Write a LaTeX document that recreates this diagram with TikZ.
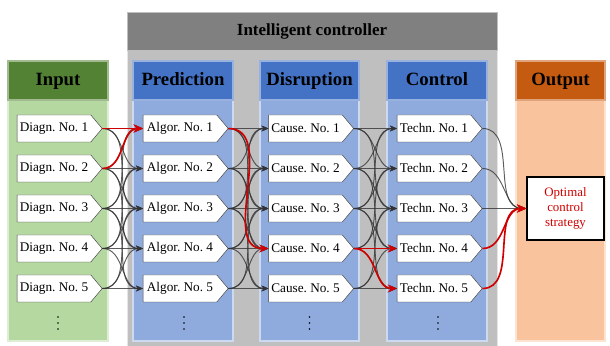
\documentclass[tikz,border=0pt]{standalone}
\usepackage{fontspec}
\setmainfont{Liberation Serif}
\usetikzlibrary{shapes.symbols,arrows.meta}
\frenchspacing
\definecolor{ingreen}{HTML}{548235}
\definecolor{inbody}{HTML}{B5D8A0}
\definecolor{hblue}{HTML}{4472C4}
\definecolor{bblue}{HTML}{8FAADC}
\definecolor{hout}{HTML}{C55A11}
\definecolor{bout}{HTML}{F9C39D}
\definecolor{ctrlhead}{HTML}{808080}
\definecolor{ctrlbody}{HTML}{BFBFBF}
\definecolor{hotred}{HTML}{D00000}
\tikzset{
  item/.style={signal, signal to=east, signal pointer angle=100, draw=black!75,
    fill=white, minimum width=2.55cm, minimum height=0.81cm, inner xsep=1.5pt,
    font=\fontsize{11.3}{13}\selectfont},
  headtext/.style={font=\fontsize{16}{18}\selectfont\bfseries, anchor=base},
  link/.style={draw=black!80, opacity=0.8, line width=0.8pt, -{Stealth[length=6pt,width=5pt]}},
  hot/.style={draw=hotred, line width=1.4pt, -{Stealth[length=8pt,width=7pt]}},
}
\begin{document}
\begin{tikzpicture}[x=0.03cm,y=-0.03cm]
\useasboundingbox (0,0) rectangle (610,346);
% intelligent controller frame
\fill[ctrlbody, draw=white!60!ctrlbody] (127,50) rectangle (497,346);
\fill[ctrlhead, draw=white!50!ctrlhead] (127,12) rectangle (497,50);
\node[headtext, font=\fontsize{14.5}{16}\selectfont\bfseries] (ctrl) at (312,36) {Intelligent controller};
% columns
\foreach \xl/\xr/\hc/\bc/\t in {8/108/ingreen/inbody/Input, 133/233/hblue/bblue/Prediction,
    260/359/hblue/bblue/Disruption, 387/487/hblue/bblue/Control, 516/605/hout/bout/Output}{
  \fill[\bc, draw=white!55!\bc, line width=1pt] (\xl,100) rectangle (\xr,341);
  \fill[\hc, draw=white!45!\hc, line width=1pt] (\xl,61) rectangle (\xr,100);
  \node[headtext] (head\t) at ({(\xl+\xr)/2},86) {\t};
}
% items
\foreach \n/\x in {Diagn/54, Algor/180, Cause/305.5, Techn/434}{
  \foreach \i in {1,...,5}
    \node[item] (\n\i) at (\x,{88.5+40*\i}) {\n.\ No.\ \i};
  % vertical dots
  \foreach \y in {317,323,329}
    \fill (\x+4,\y) circle (0.9);
}
\node[draw, line width=1.5pt, fill=white, minimum width=2.3cm, minimum height=1.9cm,
  align=center, text=hotred, font=\fontsize{11}{13}\selectfont] (opt) at (565.5,208.5)
  {Optimal\\control\\strategy};
% gray links
\foreach \a/\b in {Diagn/Algor, Algor/Cause, Cause/Techn}
  \foreach \i in {1,...,5}
    \foreach \j in {1,...,5}{
      \pgfmathtruncatemacro{\dd}{abs(\i-\j)}
      \ifnum\dd<3 \draw[link] (\a\i.east) to[out=0,in=180] (\b\j.west);\fi
    }
\foreach \i in {1,2,3}
  \draw[link] (Techn\i.east) to[out=0,in=180] (opt.west);
% red path
\draw[hot] (Diagn1.east) to[out=0,in=180] (Algor1.west);
\draw[hot] (Diagn2.east) to[out=0,in=180] (Algor1.west);
\draw[hot] (Algor1.east) to[out=0,in=180] (Cause4.west);
\draw[hot] (Cause4.east) to[out=0,in=180] (Techn4.west);
\draw[hot] (Cause4.east) to[out=0,in=180] (Techn5.west);
\draw[hot] (Techn4.east) to[out=0,in=180] (opt.west);
\draw[hot] (Techn5.east) to[out=0,in=180] (opt.west);
\end{tikzpicture}
\end{document}
